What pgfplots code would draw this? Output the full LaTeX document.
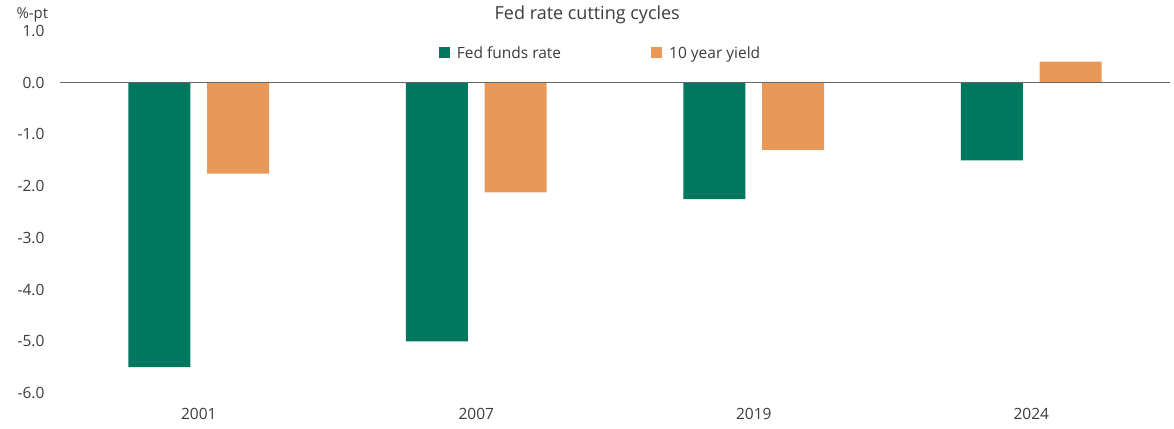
\documentclass[border=0pt]{standalone}
\usepackage{pgfplots}
\pgfplotsset{compat=1.18}
\usepackage{fontspec}
\setmainfont{Open Sans}
\definecolor{fedgreen}{RGB}{0,120,96}
\definecolor{yldorange}{RGB}{232,153,90}
\definecolor{txtgray}{RGB}{60,60,60}
\begin{document}
\begin{tikzpicture}[x=1pt,y=1pt]
\begin{axis}[
  scale only axis,
  width=1110pt, height=362pt,
  xmin=-0.5, xmax=3.5,
  ymin=-6, ymax=1,
  ytick={-6,-5,-4,-3,-2,-1,0,1},
  xtick={0,1,2,3},
  xticklabels={2001,2007,2019,2024},
  axis line style={draw=none},
  major tick length=0pt,
  tick label style={font=\fontsize{15.5}{18}\selectfont, text=txtgray},
  yticklabel style={xshift=-12pt},
  xticklabel style={yshift=-12pt},
  /pgf/number format/assume math mode=true,
  yticklabel={\pgfmathprintnumber[fixed,fixed zerofill,precision=1]{\tick}},
  legend style={draw=none, fill=none, at={(rel axis cs:0.487,0.939)}, anchor=center,
    legend columns=2, font=\fontsize{15.5}{18}\selectfont, text=txtgray,
    /tikz/every even column/.append style={column sep=88pt}},
  legend image code/.code={\path (0pt,0pt) -- (16pt,0pt); \fill[#1] (0pt,-5pt) rectangle (11pt,6pt);},
  clip=false,
]
\addplot[ybar, bar width=0.224, bar shift=-0.142, fill=fedgreen, draw=none]
  coordinates {(0,-5.5) (1,-5.0) (2,-2.25) (3,-1.5)};
\addlegendentry{Fed funds rate}
\addplot[ybar, bar width=0.224, bar shift=0.142, fill=yldorange, draw=none]
  coordinates {(0,-1.76) (1,-2.12) (2,-1.3) (3,0.41)};
\addlegendentry{10 year yield}
\draw[gray!80!black, line width=1pt] (axis cs:-0.5,0) -- (axis cs:3.5,0);
\node[font=\fontsize{18}{21}\selectfont, text=txtgray] at ([yshift=16pt]rel axis cs:0.475,1) {Fed rate cutting cycles};
\node[font=\fontsize{15}{18}\selectfont, text=txtgray, anchor=west] at ([xshift=-47pt,yshift=16pt]rel axis cs:0,1) {\%-pt};
\path ([xshift=-60pt,yshift=-36pt]rel axis cs:0,0) rectangle ([xshift=4pt,yshift=31pt]rel axis cs:1,1);
\end{axis}
\end{tikzpicture}
\end{document}
